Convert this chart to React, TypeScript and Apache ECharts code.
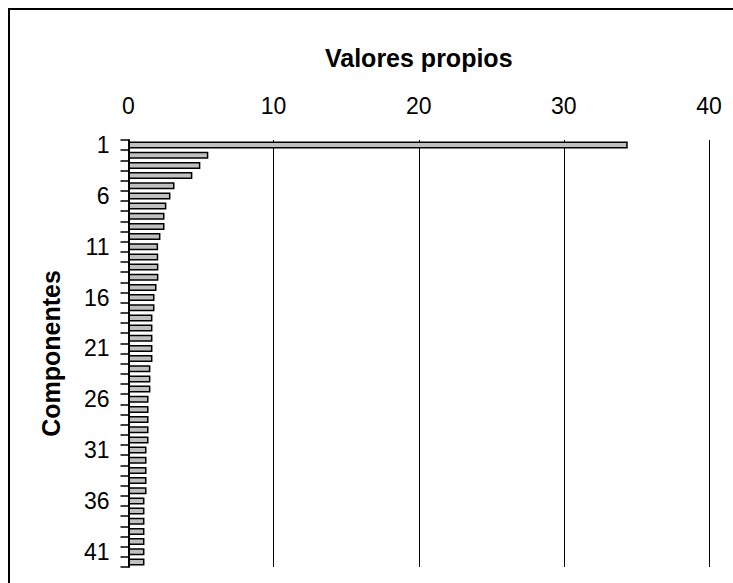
import React, { useEffect, useRef } from "react";
import * as echarts from "echarts";

const components: string[] = Array.from({ length: 42 }, (_, i) => String(i + 1));
const eigenvalues: number[] = [
  34.4, 5.5, 4.95, 4.4, 3.17, 2.89, 2.61, 2.48, 2.48, 2.2,
  2.04, 2.05, 2.06, 2.06, 1.93, 1.79, 1.79, 1.65, 1.65, 1.65,
  1.65, 1.65, 1.51, 1.51, 1.51, 1.38, 1.38, 1.38, 1.38, 1.38,
  1.24, 1.24, 1.24, 1.24, 1.24, 1.1, 1.1, 1.1, 1.1, 1.1,
  1.1, 1.1,
];
const xTitle = "Valores propios";
const yTitle = "Componentes";

export default function App() {
  const ref = useRef<HTMLDivElement>(null);
  useEffect(() => {
    document.body.style.margin = "0";
    document.body.style.overflow = "hidden";
    const chart = echarts.init(ref.current!, undefined, { renderer: "svg" });
    const font = "'Liberation Sans', Arial, sans-serif";
    chart.setOption({
      animation: false,
      backgroundColor: "#ffffff",
      graphic: [
        {
          type: "rect",
          shape: { x: 9, y: 9, width: 900, height: 900 },
          style: { fill: "none", stroke: "#000", lineWidth: 2 },
          silent: true,
        },
      ],
      grid: { left: 128.5, top: 140, width: 580.5, height: 427 },
      xAxis: {
        type: "value",
        position: "top",
        min: 0,
        max: 40,
        interval: 10,
        name: xTitle,
        nameLocation: "middle",
        nameGap: 70,
        nameTextStyle: { fontFamily: font, fontSize: 25, fontWeight: "bold", color: "#000" },
        axisLine: { show: false },
        axisTick: { show: false },
        axisLabel: { fontFamily: font, fontSize: 23, color: "#000", margin: 23 },
        splitLine: { show: true, lineStyle: { color: "#000", width: 1 } },
      },
      yAxis: {
        type: "category",
        inverse: true,
        data: components,
        name: yTitle,
        nameLocation: "middle",
        nameGap: 65,
        nameTextStyle: { fontFamily: font, fontSize: 25, fontWeight: "bold", color: "#000" },
        axisLine: { show: true, lineStyle: { color: "#000", width: 2 } },
        axisTick: { show: true, interval: 0, length: 8, lineStyle: { color: "#000", width: 1.5 } },
        axisLabel: { interval: 4, fontFamily: font, fontSize: 23, color: "#000", margin: 19 },
        splitLine: { show: false },
      },
      series: [
        {
          type: "bar",
          data: eigenvalues,
          barWidth: 7,
          itemStyle: { color: "#c0c0c0", borderColor: "#000", borderWidth: 1.5 },
        },
      ],
    });
    return () => chart.dispose();
  }, []);
  return <div ref={ref} style={{ width: 733, height: 583 }} />;
}
